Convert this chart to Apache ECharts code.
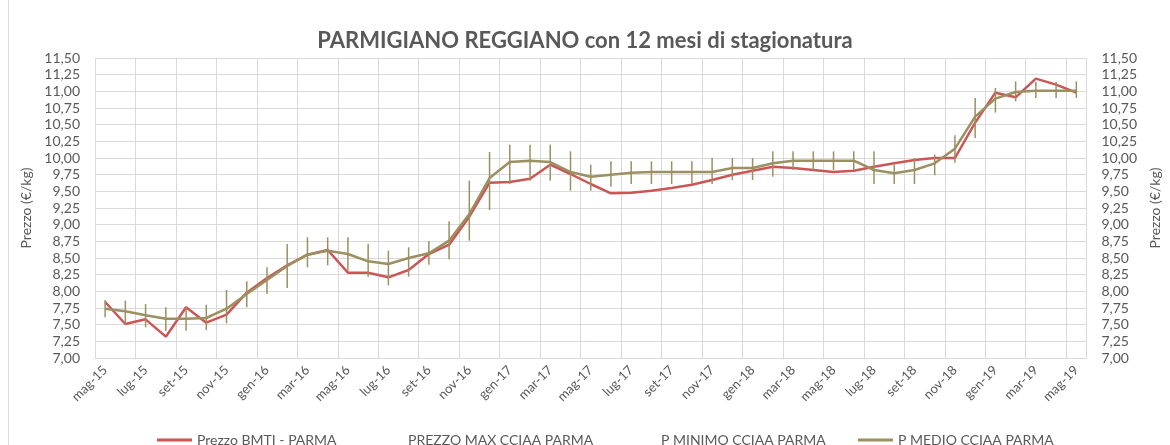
<!DOCTYPE html>
<html>
<head>
<meta charset="utf-8">
<script src="https://cdn.jsdelivr.net/npm/echarts@6/dist/echarts.min.js"></script>
<style>
  html, body { margin: 0; padding: 0; background: #fff; }
  #chart { width: 1170px; height: 445px; }
</style>
</head>
<body>
<div id="chart"></div>
<script>
// mesi (mag-15 .. mag-19)
var mesi = ['mag-15','giu-15','lug-15','ago-15','set-15','ott-15','nov-15','dic-15',
  'gen-16','feb-16','mar-16','apr-16','mag-16','giu-16','lug-16','ago-16','set-16','ott-16','nov-16','dic-16',
  'gen-17','feb-17','mar-17','apr-17','mag-17','giu-17','lug-17','ago-17','set-17','ott-17','nov-17','dic-17',
  'gen-18','feb-18','mar-18','apr-18','mag-18','giu-18','lug-18','ago-18','set-18','ott-18','nov-18','dic-18',
  'gen-19','feb-19','mar-19','apr-19','mag-19'];

// Prezzo BMTI - PARMA
var prezzoBmti = [7.84, 7.51, 7.58, 7.32, 7.76, 7.53, 7.65, 7.98, 8.20, 8.39, 8.55, 8.62, 8.28, 8.28, 8.21, 8.32,
  8.56, 8.70, 9.12, 9.63, 9.64, 9.69, 9.90, 9.76, 9.61, 9.47, 9.48, 9.51, 9.55, 9.60, 9.67, 9.75, 9.81,
  9.87, 9.85, 9.82, 9.79, 9.81, 9.87, 9.92, 9.97, 10.00, 10.00, 10.53, 10.98, 10.91, 11.19, 11.10, 10.98];

// P MEDIO CCIAA PARMA
var prezzoMedio = [7.74, 7.70, 7.64, 7.59, 7.59, 7.60, 7.74, 7.96, 8.17, 8.38, 8.55, 8.61, 8.56, 8.45, 8.41, 8.50,
  8.57, 8.76, 9.16, 9.70, 9.94, 9.96, 9.94, 9.79, 9.72, 9.75, 9.78, 9.79, 9.79, 9.79, 9.79, 9.85, 9.85,
  9.92, 9.96, 9.96, 9.96, 9.96, 9.82, 9.77, 9.82, 9.92, 10.14, 10.62, 10.89, 10.99, 11.01, 11.01, 11.01];

// PREZZO MAX CCIAA PARMA
var prezzoMax = [7.87, 7.86, 7.81, 7.76, 7.76, 7.80, 8.02, 8.15, 8.36, 8.71, 8.81, 8.81, 8.81, 8.71, 8.61, 8.66,
  8.75, 9.05, 9.66, 10.09, 10.20, 10.20, 10.20, 10.10, 9.90, 9.95, 9.95, 9.95, 9.95, 9.95, 10.00, 10.00, 10.00,
  10.10, 10.10, 10.10, 10.10, 10.10, 10.10, 9.90, 10.00, 10.05, 10.34, 10.90, 11.05, 11.15, 11.14, 11.14, 11.15];

// P MINIMO CCIAA PARMA
var prezzoMin = [7.61, 7.50, 7.46, 7.41, 7.41, 7.42, 7.52, 7.76, 7.96, 8.05, 8.36, 8.39, 8.31, 8.22, 8.09, 8.22,
  8.40, 8.48, 8.76, 9.22, 9.61, 9.66, 9.66, 9.51, 9.51, 9.57, 9.61, 9.61, 9.61, 9.61, 9.61, 9.67, 9.67,
  9.72, 9.82, 9.82, 9.82, 9.82, 9.61, 9.61, 9.61, 9.74, 9.93, 10.30, 10.68, 10.85, 10.90, 10.90, 10.90];

var rosso = '#CC5555';
var oliva = '#9A9061';
var testo = '#595959';
var griglia = '#D9D9D9';
var font = 'Lato';

var chart = echarts.init(document.getElementById('chart'));

function virgola(v) { return v.toFixed(2).replace('.', ','); }

var yAxisBase = {
  type: 'value',
  min: 7,
  max: 11.5,
  interval: 0.25,
  name: 'Prezzo (€/kg)',
  nameLocation: 'middle',
  nameGap: 58,
  nameRotate: 90,
  nameTextStyle: { color: testo, fontSize: 14, fontFamily: font },
  axisLine: { show: false },
  axisTick: { show: false },
  axisLabel: { color: testo, fontSize: 14, fontFamily: font, margin: 15, formatter: virgola }
};

var erroreDati = mesi.map(function (m, i) { return [i, prezzoMin[i], prezzoMax[i]]; });

chart.setOption({
  animation: false,
  title: {
    text: 'PARMIGIANO REGGIANO con 12 mesi di stagionatura',
    left: 'center',
    top: 25,
    textStyle: { color: testo, fontSize: 22, fontWeight: 'bold', fontFamily: font }
  },
  graphic: [{
    type: 'rect',
    shape: { x: 8.5, y: -5, width: 1200, height: 460 },
    style: { fill: 'none', stroke: griglia, lineWidth: 1 }
  }],
  legend: [
    { data: [{ name: 'Prezzo BMTI - PARMA', itemStyle: { color: rosso } }], left: 152, top: 428 },
    { data: [{ name: 'PREZZO MAX CCIAA PARMA', itemStyle: { opacity: 0 } }], left: 363, top: 428 },
    { data: [{ name: 'P MINIMO CCIAA PARMA', itemStyle: { opacity: 0 } }], left: 616, top: 428 },
    { data: [{ name: 'P MEDIO CCIAA PARMA', itemStyle: { color: oliva } }], left: 853, top: 428 }
  ].map(function (l) {
    l.icon = 'rect';
    l.itemWidth = 35; l.itemHeight = 3; l.itemGap = 5;
    l.textStyle = { color: testo, fontSize: 14, fontFamily: font };
    l.selectedMode = false;
    return l;
  }),
  grid: { left: 95, right: 73, top: 58, bottom: 87 },
  xAxis: {
    type: 'category',
    data: mesi,
    boundaryGap: true,
    axisLine: { lineStyle: { color: griglia } },
    axisTick: { interval: 1, length: 5, lineStyle: { color: griglia } },
    splitLine: { show: true, interval: 1, lineStyle: { color: griglia } },
    axisLabel: { interval: 1, rotate: 45, color: testo, fontSize: 13, fontFamily: font, margin: 10 }
  },
  yAxis: [
    Object.assign({}, yAxisBase, { position: 'left', splitLine: { lineStyle: { color: griglia } } }),
    Object.assign({}, yAxisBase, { position: 'right', splitLine: { show: false } })
  ],
  series: [
    {
      name: 'Prezzo BMTI - PARMA',
      type: 'line',
      data: prezzoBmti,
      symbol: 'none',
      lineStyle: { color: rosso, width: 2.5 },
      itemStyle: { color: rosso },
      z: 2
    },
    {
      name: 'PREZZO MAX CCIAA PARMA',
      type: 'line',
      data: prezzoMax,
      symbol: 'none',
      silent: true,
      lineStyle: { opacity: 0 },
      itemStyle: { opacity: 0 }
    },
    {
      name: 'P MINIMO CCIAA PARMA',
      type: 'line',
      data: prezzoMin,
      symbol: 'none',
      silent: true,
      lineStyle: { opacity: 0 },
      itemStyle: { opacity: 0 }
    },
    {
      name: 'barre',
      type: 'custom',
      data: erroreDati,
      z: 3,
      renderItem: function (params, api) {
        var x = api.value(0);
        var basso = api.coord([x, api.value(1)]);
        var alto = api.coord([x, api.value(2)]);
        return {
          type: 'line',
          shape: { x1: basso[0], y1: basso[1], x2: alto[0], y2: alto[1] },
          style: { stroke: oliva, lineWidth: 1.5 }
        };
      }
    },
    {
      name: 'P MEDIO CCIAA PARMA',
      type: 'line',
      data: prezzoMedio,
      symbol: 'none',
      lineStyle: { color: oliva, width: 2.5 },
      itemStyle: { color: oliva },
      z: 4
    }
  ]
});
</script>
</body>
</html>
